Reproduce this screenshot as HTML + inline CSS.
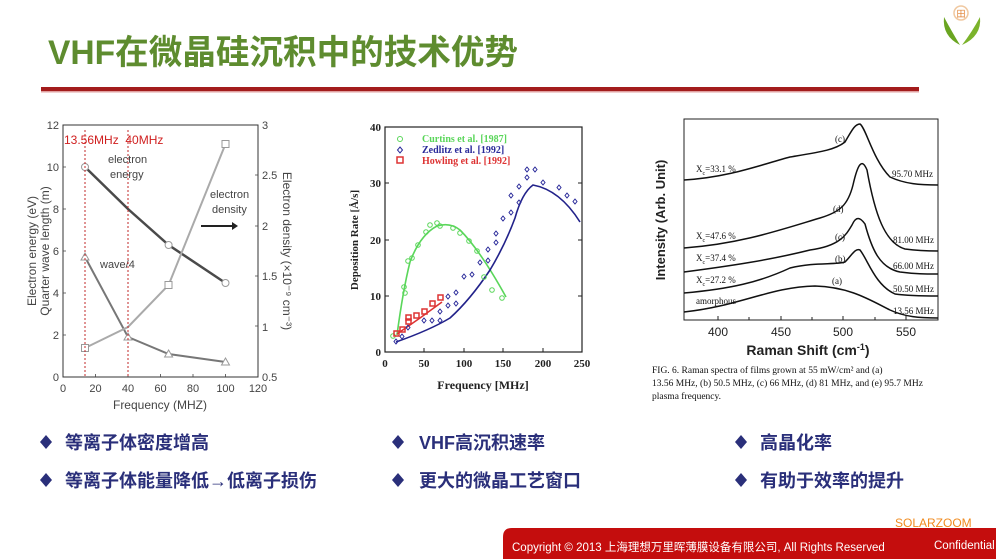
<!DOCTYPE html>
<html><head><meta charset="utf-8"><style>
html,body{margin:0;padding:0;background:#fff;}
svg{display:block;}
text{font-family:"Liberation Sans","Noto Sans CJK SC",sans-serif;}
.serif text{font-family:"Liberation Serif","DejaVu Serif",serif;}
</style></head><body>
<svg width="996" height="559" viewBox="0 0 996 559" xmlns="http://www.w3.org/2000/svg">
<!-- title -->
<text x="48" y="64" font-size="34" font-weight="bold" fill="#5e8c2f" textLength="470" lengthAdjust="spacingAndGlyphs">VHF在微晶硅沉积中的技术优势</text>
<rect x="41" y="87" width="878" height="4" fill="#a31c1c"/>
<rect x="41" y="91" width="878" height="1.5" fill="#e0a0a0"/>
<!-- logo -->
<circle cx="961" cy="13" r="7" fill="#fff" stroke="#f0c8a0" stroke-width="1.5"/>
<text x="961" y="17" font-size="9" fill="#e08030" text-anchor="middle">田</text>
<path d="M944 17 Q942 36 960 45 Q952 32 944 17Z" fill="#6aa521"/>
<path d="M980 17 Q982 36 962 45 Q972 32 980 17Z" fill="#7bb32b"/>

<!-- chart 1 -->
<g stroke="#333" stroke-width="1" fill="none">
<rect x="63" y="125" width="195" height="252"/>
</g>
<g fill="#444" font-size="11">
<text x="59" y="381" text-anchor="end">0</text>
<text x="59" y="339" text-anchor="end">2</text>
<text x="59" y="297" text-anchor="end">4</text>
<text x="59" y="255" text-anchor="end">6</text>
<text x="59" y="213" text-anchor="end">8</text>
<text x="59" y="171" text-anchor="end">10</text>
<text x="59" y="129" text-anchor="end">12</text>
<text x="262" y="381">0.5</text><text x="262" y="331">1</text><text x="262" y="280">1.5</text><text x="262" y="230">2</text><text x="262" y="179">2.5</text><text x="262" y="129">3</text>
<text x="63" y="392" text-anchor="middle">0</text><text x="95.5" y="392" text-anchor="middle">20</text><text x="128" y="392" text-anchor="middle">40</text><text x="160.5" y="392" text-anchor="middle">60</text><text x="193" y="392" text-anchor="middle">80</text><text x="225.5" y="392" text-anchor="middle">100</text><text x="258" y="392" text-anchor="middle">120</text>
<text x="160" y="409" text-anchor="middle" font-size="12">Frequency (MHZ)</text>
<text transform="translate(36,251) rotate(-90)" text-anchor="middle" font-size="12">Electron energy (eV)</text>
<text transform="translate(49,251) rotate(-90)" text-anchor="middle" font-size="12">Quarter wave length (m)</text>
<text transform="translate(283,251) rotate(90)" text-anchor="middle" font-size="12">Electron density (×10⁻⁹ cm⁻³)</text>
<text x="108" y="163" font-size="11">electron</text><text x="110" y="178" font-size="11">energy</text>
<text x="210" y="198" font-size="11">electron</text><text x="212" y="213" font-size="11">density</text>
<text x="100" y="268" font-size="11">wave/4</text>
</g>
<path d="M201 226 L232 226" stroke="#222" stroke-width="2"/><path d="M232 222 L238 226 L232 230Z" fill="#222"/>
<g stroke="#444" stroke-width="0.8">
<path d="M63 167h3M63 209h3M63 251h3M63 293h3M63 335h3M255 175h3M255 226h3M255 276h3M255 326h3M95.5 377v-3M128 377v-3M160.5 377v-3M193 377v-3M225.5 377v-3"/>
</g>
<path d="M85 167 L128 209 L168.6 245 L225.5 283" stroke="#4a4a4a" stroke-width="2.5" fill="none"/>
<path d="M85 257 L128 337 L168.6 354 L225.5 362" stroke="#777" stroke-width="2" fill="none"/>
<path d="M85 348 L128 327 L168.6 285 L225.5 144" stroke="#aaa" stroke-width="2" fill="none"/>
<g fill="#fff" stroke="#999" stroke-width="1">
<circle cx="85" cy="167" r="3.5"/><circle cx="168.6" cy="245" r="3.5"/><circle cx="225.5" cy="283" r="3.5"/>
<rect x="81.5" y="344.5" width="7" height="7"/><rect x="165" y="281.5" width="7" height="7"/><rect x="222" y="140.5" width="7" height="7"/>
<path d="M85 253 L89 260 L81 260Z"/><path d="M128 333 L132 340 L124 340Z"/><path d="M168.6 350 L172.6 357 L164.6 357Z"/><path d="M225.5 358 L229.5 365 L221.5 365Z"/>
</g>
<path d="M85 130 V377 M128 130 V377" stroke="#c0282a" stroke-width="1" stroke-dasharray="2,2"/>
<text x="64" y="144" font-size="12" fill="#d02020">13.56MHz&#160;&#160;40MHz</text>

<!-- chart 2 -->
<rect x="385" y="127" width="197" height="225" fill="none" stroke="#222" stroke-width="1.2"/>
<g class="serif" font-weight="bold" fill="#222" font-size="11">
<text x="381" y="356" text-anchor="end">0</text><text x="381" y="300" text-anchor="end">10</text><text x="381" y="244" text-anchor="end">20</text><text x="381" y="187" text-anchor="end">30</text><text x="381" y="131" text-anchor="end">40</text>
<text x="385" y="367" text-anchor="middle">0</text><text x="424" y="367" text-anchor="middle">50</text><text x="464" y="367" text-anchor="middle">100</text><text x="503" y="367" text-anchor="middle">150</text><text x="543" y="367" text-anchor="middle">200</text><text x="582" y="367" text-anchor="middle">250</text>
<text x="483" y="389" text-anchor="middle" font-size="12">Frequency [MHz]</text>
<text transform="translate(358,240) rotate(-90)" text-anchor="middle" font-size="11">Deposition Rate [Å/s]</text>
<text x="422" y="142" fill="#5ad65a" font-size="10">Curtins et al.  [1987]</text>
<text x="422" y="153" fill="#2a2a9a" font-size="10">Zedlitz et al.    [1992]</text>
<text x="422" y="164" fill="#dd3333" font-size="10">Howling et al. [1992]</text>
</g>
<circle cx="400" cy="139" r="2.5" fill="none" stroke="#5ad65a"/>
<path d="M400 147 l2.5 3 l-2.5 3 l-2.5 -3Z" fill="none" stroke="#2a2a9a"/>
<rect x="397" y="157" width="6" height="6" fill="none" stroke="#dd3333" stroke-width="1.5"/>
<g stroke="#222"><path d="M385 296h4M385 240h4M385 183h4M424 352v-4M464 352v-4M503 352v-4M543 352v-4M578 296h4M578 240h4M578 183h4"/></g>
<path d="M397 335 Q403 290 410 262 Q420 235 437 226 Q450 222 460 230 Q480 250 506 297" stroke="#5ad65a" stroke-width="1.6" fill="none"/>
<path d="M396 342 Q430 330 450 318 Q470 300 490 270 Q505 245 515 218 Q522 193 533 185 Q560 190 580 222" stroke="#22228a" stroke-width="1.6" fill="none"/>
<path d="M397 334 L420 318 L442 302" stroke="#dd3333" stroke-width="1.6" fill="none"/>
<g fill="none" stroke="#5ad65a" stroke-width="1">
<circle cx="405" cy="293" r="2.3"/><circle cx="404" cy="287" r="2.3"/><circle cx="408" cy="261" r="2.3"/><circle cx="412" cy="258" r="2.3"/><circle cx="418" cy="245" r="2.3"/><circle cx="426" cy="232" r="2.3"/><circle cx="430" cy="225" r="2.3"/><circle cx="437" cy="223" r="2.3"/><circle cx="440" cy="226" r="2.3"/><circle cx="453" cy="228" r="2.3"/><circle cx="460" cy="233" r="2.3"/><circle cx="469" cy="241" r="2.3"/><circle cx="477" cy="251" r="2.3"/><circle cx="484" cy="277" r="2.3"/><circle cx="492" cy="290" r="2.3"/><circle cx="502" cy="298" r="2.3"/><circle cx="393" cy="336" r="2.3"/>
</g>
<g fill="none" stroke="#2a2a9a" stroke-width="1">
<path d="M396 339l2 2.5l-2 2.5l-2-2.5Z M402 334l2 2.5l-2 2.5l-2-2.5Z M408 325l2 2.5l-2 2.5l-2-2.5Z M424 318l2 2.5l-2 2.5l-2-2.5Z M432 318l2 2.5l-2 2.5l-2-2.5Z M440 318l2 2.5l-2 2.5l-2-2.5Z M440 309l2 2.5l-2 2.5l-2-2.5Z M448 303l2 2.5l-2 2.5l-2-2.5Z M448 294l2 2.5l-2 2.5l-2-2.5Z M456 301l2 2.5l-2 2.5l-2-2.5Z M456 290l2 2.5l-2 2.5l-2-2.5Z M464 274l2 2.5l-2 2.5l-2-2.5Z M472 272l2 2.5l-2 2.5l-2-2.5Z M480 260l2 2.5l-2 2.5l-2-2.5Z M488 258l2 2.5l-2 2.5l-2-2.5Z M488 247l2 2.5l-2 2.5l-2-2.5Z M496 240l2 2.5l-2 2.5l-2-2.5Z M496 231l2 2.5l-2 2.5l-2-2.5Z M503 216l2 2.5l-2 2.5l-2-2.5Z M511 210l2 2.5l-2 2.5l-2-2.5Z M511 193l2 2.5l-2 2.5l-2-2.5Z M519 184l2 2.5l-2 2.5l-2-2.5Z M519 200l2 2.5l-2 2.5l-2-2.5Z M527 175l2 2.5l-2 2.5l-2-2.5Z M527 167l2 2.5l-2 2.5l-2-2.5Z M535 167l2 2.5l-2 2.5l-2-2.5Z M543 180l2 2.5l-2 2.5l-2-2.5Z M559 185l2 2.5l-2 2.5l-2-2.5Z M567 193l2 2.5l-2 2.5l-2-2.5Z M575 199l2 2.5l-2 2.5l-2-2.5Z"/>
</g>
<g fill="none" stroke="#dd3333" stroke-width="1.5">
<rect x="394" y="331" width="5" height="5"/><rect x="400" y="327" width="5" height="5"/><rect x="406" y="315" width="5" height="5"/><rect x="406" y="319" width="5" height="5"/><rect x="414" y="313" width="5" height="5"/><rect x="422" y="309" width="5" height="5"/><rect x="430" y="301" width="5" height="5"/><rect x="438" y="295" width="5" height="5"/>
</g>

<!-- chart 3 -->
<rect x="684" y="119" width="254" height="201" fill="none" stroke="#222" stroke-width="1"/>
<g stroke="#222"><path d="M718 320v-4M749 320v-3M781 320v-4M812 320v-3M843 320v-4M875 320v-3M906 320v-4"/></g>
<g fill="#222" font-size="12">
<text x="718" y="336" text-anchor="middle">400</text><text x="781" y="336" text-anchor="middle">450</text><text x="843" y="336" text-anchor="middle">500</text><text x="906" y="336" text-anchor="middle">550</text>
<text x="808" y="355" text-anchor="middle" font-size="14" font-weight="bold">Raman Shift (cm<tspan font-size="9" dy="-5">-1</tspan><tspan dy="5">)</tspan></text>
<text transform="translate(665,220) rotate(-90)" text-anchor="middle" font-size="13" font-weight="bold">Intensity  (Arb. Unit)</text>
</g>
<g stroke="#111" stroke-width="1.5" fill="none">
<path d="M684 312 C740 306 770 287 815 286 C850 287 870 300 890 310 C905 317 920 318 938 318"/>
<path d="M684 293 C730 289 760 282 790 268 C815 262 835 265 845 262 C852 255 855 248 860 250 C868 260 875 285 895 294 C910 296 925 296 938 296"/>
<path d="M684 272 C730 266 770 260 810 250 C840 246 846 235 852 225 C856 216 860 217 865 224 C872 250 880 268 900 272 C915 274 925 274 938 274"/>
<path d="M684 248 C740 244 780 230 820 218 C840 212 848 205 853 185 C858 163 862 158 867 170 C875 215 885 243 905 249 C920 251 930 251 938 251"/>
<path d="M684 180 C730 177 760 165 790 157 C820 152 835 150 845 142 C852 130 855 124 860 124 C866 128 873 160 890 177 C905 184 920 185 938 185"/>
</g>
<g class="serif" fill="#111" font-size="9">
<text x="835" y="142">(c)</text><text x="833" y="212">(d)</text><text x="835" y="240">(c)</text><text x="835" y="262">(b)</text><text x="832" y="284">(a)</text>
<text x="696" y="172">X<tspan font-size="6" dy="3">c</tspan><tspan dy="-3">=33.1 %</tspan></text>
<text x="696" y="239">X<tspan font-size="6" dy="3">c</tspan><tspan dy="-3">=47.6 %</tspan></text>
<text x="696" y="261">X<tspan font-size="6" dy="3">c</tspan><tspan dy="-3">=37.4 %</tspan></text>
<text x="696" y="283">X<tspan font-size="6" dy="3">c</tspan><tspan dy="-3">=27.2 %</tspan></text>
<text x="696" y="304">amorphous</text>
<text x="892" y="177">95.70 MHz</text><text x="893" y="243">81.00 MHz</text><text x="893" y="269">66.00 MHz</text><text x="893" y="292">50.50 MHz</text><text x="893" y="314">13.56 MHz</text>
<text x="652" y="373" font-size="9.5">FIG. 6. Raman spectra of films grown at 55 mW/cm² and (a)</text>
<text x="652" y="386" font-size="9.5">13.56 MHz, (b) 50.5 MHz, (c) 66 MHz, (d) 81 MHz, and (e) 95.7 MHz</text>
<text x="652" y="399" font-size="9.5">plasma frequency.</text>
</g>

<!-- bullets -->
<g fill="#2a2f7a" font-size="18" font-weight="bold">
<path d="M46 435 l6 7 l-6 7 l-6 -7Z M46 473 l6 7 l-6 7 l-6 -7Z M398 435 l6 7 l-6 7 l-6 -7Z M398 473 l6 7 l-6 7 l-6 -7Z M741 435 l6 7 l-6 7 l-6 -7Z M741 473 l6 7 l-6 7 l-6 -7Z"/>
<text x="65" y="449">等离子体密度增高</text>
<text x="65" y="487">等离子体能量降低→低离子损伤</text>
<text x="419" y="449">VHF高沉积速率</text>
<text x="419" y="487">更大的微晶工艺窗口</text>
<text x="760" y="449">高晶化率</text>
<text x="760" y="487">有助于效率的提升</text>
</g>

<!-- footer -->
<text x="895" y="527" font-family="Liberation Mono,monospace" font-size="12" fill="#f08a1e">SOLARZOOM</text>
<path d="M512 528 H996 V559 H503 V537 Q503 528 512 528Z" fill="#c40d0d"/>
<text x="512" y="551" font-size="11.5" fill="#fff">Copyright © 2013 上海理想万里晖薄膜设备有限公司, All Rights Reserved</text>
<text x="934" y="549" font-size="11.5" fill="#fff">Confidential</text>
</svg>
</body></html>
